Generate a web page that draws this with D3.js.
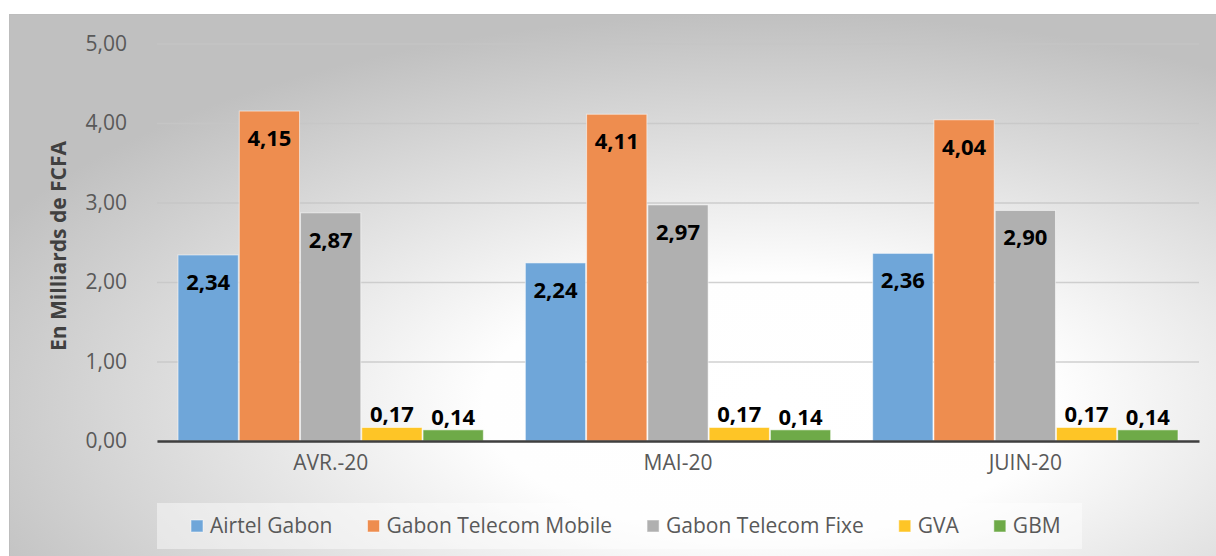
<!DOCTYPE html>
<html>
<head>
<meta charset="utf-8">
<script src="https://cdn.jsdelivr.net/npm/d3@7"></script>
<style>
  body { margin: 0; background: #fff; }
  svg { display: block; font-family: "Open Sans", sans-serif; }
</style>
</head>
<body>
<div id="chart1"></div>
<script>
var months = ["AVR.-20", "MAI-20", "JUIN-20"];
var seriesNames = ["Airtel Gabon", "Gabon Telecom Mobile", "Gabon Telecom Fixe", "GVA", "GBM"];
var airtelGabon = [2.34, 2.24, 2.36];
var gtMobile = [4.15, 4.11, 4.04];
var gtFixe = [2.87, 2.97, 2.90];
var gva = [0.17, 0.17, 0.17];
var gbm = [0.14, 0.14, 0.14];
var yTicks = [0, 1, 2, 3, 4, 5];
var colors = ["#6fa6d9", "#ee8d4f", "#b0b0b0", "#fec526", "#6eaa48"];

var allSeries = [airtelGabon, gtMobile, gtFixe, gva, gbm];

var W = 1216, H = 556;
var margin = { top: 43.5, right: 17, bottom: 115, left: 157 };

function fmt(v) {
    return d3.format(".2f")(v).replace(".", ",");
}

function drawChart() {
    var svg = d3.select("#chart1").append("svg")
        .attr("width", W)
        .attr("height", H);

    var defs = svg.append("defs");
    var grad = defs.append("radialGradient")
        .attr("id", "bg")
        .attr("cx", "0.63").attr("cy", "0.72")
        .attr("r", "0.72");
    grad.append("stop").attr("offset", "0").attr("stop-color", "#ffffff");
    grad.append("stop").attr("offset", "0.33").attr("stop-color", "#fefefe");
    grad.append("stop").attr("offset", "1").attr("stop-color", "#c0c0c0");

    // chart area
    svg.append("rect")
        .attr("x", 9).attr("y", 14)
        .attr("width", W - 9).attr("height", H - 14)
        .attr("fill", "url(#bg)");
    svg.append("path")
        .attr("d", "M9.5," + H + "V14.5H" + W)
        .attr("fill", "none")
        .attr("stroke", "#bdbdbd");

    var x0 = d3.scaleBand()
        .domain(months)
        .range([margin.left, W - margin.right])
        .padding(0);

    var x1 = d3.scaleBand()
        .domain(seriesNames)
        .range([0, x0.bandwidth()])
        .paddingInner(0)
        .paddingOuter(0.335);

    var y = d3.scaleLinear()
        .domain([0, 5])
        .range([H - margin.bottom, margin.top]);

    // gridlines
    svg.append("g")
        .attr("class", "grid")
        .attr("transform", "translate(" + margin.left + ",0)")
        .call(d3.axisLeft(y).tickValues(yTicks).tickSize(-(W - margin.left - margin.right)).tickFormat(""))
        .call(function (g) { g.select(".domain").remove(); })
        .selectAll("line")
        .attr("stroke", "#c6c6c6")
        .attr("stroke-opacity", 0.8)
        .attr("stroke-width", 1.5);

    // y tick labels
    svg.append("g")
        .attr("transform", "translate(" + (margin.left - 27) + ",0)")
        .call(d3.axisLeft(y).tickValues(yTicks).tickSize(0).tickFormat(fmt))
        .call(function (g) { g.select(".domain").remove(); })
        .selectAll("text")
        .attr("fill", "#595959")
        .style("font-size", "21px")
        .style("font-family", "Open Sans");

    // bars
    var rows = months.map(function (m, i) {
        return seriesNames.map(function (s, j) {
            return { month: m, name: s, value: allSeries[j][i], color: colors[j] };
        });
    });

    var groups = svg.selectAll(".grp")
        .data(rows)
        .enter().append("g")
        .attr("class", "grp")
        .attr("transform", function (d, i) { return "translate(" + x0(months[i]) + ",0)"; });

    groups.selectAll(".bar")
        .data(function (d) { return d; })
        .enter().append("rect")
        .attr("class", "bar")
        .attr("x", function (d) { return x1(d.name) + 0.5; })
        .attr("width", x1.bandwidth() - 1)
        .attr("y", function (d) { return y(d.value); })
        .attr("height", function (d) { return y(0) - y(d.value); })
        .attr("fill", function (d) { return d.color; })
        .attr("stroke", "#ffffff")
        .attr("stroke-opacity", 0.55)
        .attr("stroke-width", 1);

    groups.selectAll(".bar-label")
        .data(function (d) { return d; })
        .enter().append("text")
        .attr("class", "bar-label")
        .attr("x", function (d) { return x1(d.name) + x1.bandwidth() / 2; })
        .attr("y", function (d) { return d.value > 1 ? y(d.value) + 35 : y(d.value) - 5; })
        .attr("text-anchor", "middle")
        .attr("fill", "#000")
        .style("font-size", "22px")
        .style("font-weight", "bold")
        .text(function (d) { return fmt(d.value); });

    // x axis
    var xa = svg.append("g")
        .attr("transform", "translate(0," + y(0) + ")")
        .call(d3.axisBottom(x0).tickSize(0).tickPadding(14));
    xa.select(".domain")
        .attr("stroke", "#3f3f3f")
        .attr("stroke-width", 2.5);
    xa.selectAll("text")
        .attr("fill", "#595959")
        .style("font-size", "21px")
        .style("font-family", "Open Sans");

    // y axis title
    svg.append("text")
        .attr("transform", "translate(66," + 246 + ") rotate(-90)")
        .attr("text-anchor", "middle")
        .attr("fill", "#404040")
        .style("font-size", "21px")
        .style("font-weight", "bold")
        .text("En Milliards de FCFA");

    // legend
    svg.append("rect")
        .attr("x", 157).attr("y", 503)
        .attr("width", 925).attr("height", 46)
        .attr("fill", "#ffffff")
        .attr("fill-opacity", 0.45);

    var lx = 191;
    seriesNames.forEach(function (s, j) {
        svg.append("rect")
            .attr("x", lx).attr("y", 520)
            .attr("width", 12).attr("height", 12)
            .attr("fill", colors[j])
            .attr("stroke", "#ffffff")
            .attr("stroke-opacity", 0.5);
        var t = svg.append("text")
            .attr("x", lx + 19).attr("y", 533)
            .attr("fill", "#595959")
            .style("font-size", "21px")
            .text(s);
        lx = lx + 19 + t.node().getComputedTextLength() + 35;
    });
}

drawChart();
</script>
</body>
</html>
